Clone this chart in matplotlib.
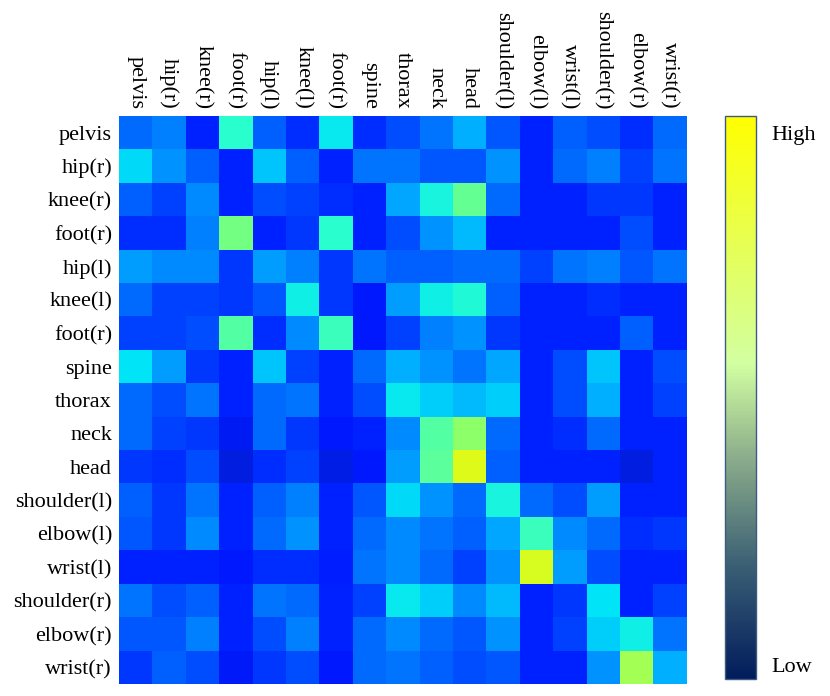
import numpy as np
import matplotlib
matplotlib.use("Agg")
import matplotlib.pyplot as plt
from matplotlib.colors import LinearSegmentedColormap, Normalize
from matplotlib.cm import ScalarMappable

joints = ["pelvis", "hip(r)", "knee(r)", "foot(r)", "hip(l)", "knee(l)", "foot(r)",
          "spine", "thorax", "neck", "head", "shoulder(l)", "elbow(l)", "wrist(l)",
          "shoulder(r)", "elbow(r)", "wrist(r)"]

# attention values (0..1 scale)
row_pelvis     = [0.23, 0.25, 0.16, 0.40, 0.22, 0.17, 0.36, 0.17, 0.20, 0.24, 0.30, 0.21, 0.16, 0.22, 0.20, 0.17, 0.23]
row_hip_r      = [0.34, 0.27, 0.22, 0.16, 0.32, 0.22, 0.16, 0.24, 0.24, 0.21, 0.21, 0.27, 0.16, 0.23, 0.25, 0.19, 0.24]
row_knee_r     = [0.22, 0.19, 0.26, 0.16, 0.20, 0.19, 0.17, 0.16, 0.29, 0.38, 0.47, 0.23, 0.16, 0.16, 0.18, 0.18, 0.16]
row_foot_r     = [0.17, 0.17, 0.25, 0.49, 0.16, 0.18, 0.40, 0.16, 0.20, 0.27, 0.31, 0.16, 0.16, 0.16, 0.16, 0.20, 0.16]
row_hip_l      = [0.28, 0.26, 0.26, 0.18, 0.28, 0.25, 0.18, 0.24, 0.22, 0.22, 0.23, 0.23, 0.19, 0.24, 0.25, 0.21, 0.24]
row_knee_l     = [0.23, 0.19, 0.19, 0.18, 0.21, 0.37, 0.18, 0.15, 0.28, 0.37, 0.39, 0.22, 0.16, 0.16, 0.17, 0.16, 0.16]
row_foot_r2    = [0.19, 0.19, 0.20, 0.45, 0.17, 0.26, 0.42, 0.15, 0.19, 0.25, 0.27, 0.18, 0.16, 0.16, 0.16, 0.22, 0.16]
row_spine      = [0.35, 0.28, 0.18, 0.16, 0.32, 0.19, 0.16, 0.23, 0.30, 0.27, 0.24, 0.29, 0.16, 0.20, 0.32, 0.16, 0.20]
row_thorax     = [0.23, 0.20, 0.24, 0.16, 0.23, 0.24, 0.16, 0.20, 0.36, 0.33, 0.31, 0.33, 0.16, 0.20, 0.30, 0.16, 0.19]
row_neck       = [0.23, 0.19, 0.18, 0.14, 0.23, 0.18, 0.15, 0.16, 0.26, 0.45, 0.52, 0.23, 0.16, 0.17, 0.23, 0.16, 0.16]
row_head       = [0.18, 0.17, 0.20, 0.12, 0.17, 0.19, 0.125, 0.15, 0.28, 0.46, 0.62, 0.22, 0.16, 0.16, 0.16, 0.12, 0.16]
row_shoulder_l = [0.22, 0.18, 0.24, 0.16, 0.22, 0.25, 0.16, 0.21, 0.34, 0.27, 0.23, 0.38, 0.23, 0.20, 0.28, 0.16, 0.16]
row_elbow_l    = [0.21, 0.18, 0.26, 0.16, 0.23, 0.27, 0.16, 0.23, 0.26, 0.24, 0.22, 0.29, 0.42, 0.26, 0.23, 0.17, 0.18]
row_wrist_l    = [0.16, 0.16, 0.16, 0.15, 0.17, 0.17, 0.155, 0.24, 0.26, 0.23, 0.19, 0.27, 0.61, 0.28, 0.20, 0.16, 0.16]
row_shoulder_r = [0.24, 0.20, 0.22, 0.16, 0.24, 0.23, 0.16, 0.19, 0.36, 0.33, 0.26, 0.31, 0.16, 0.18, 0.35, 0.16, 0.19]
row_elbow_r    = [0.21, 0.21, 0.25, 0.16, 0.20, 0.25, 0.16, 0.23, 0.26, 0.23, 0.21, 0.27, 0.16, 0.19, 0.33, 0.37, 0.24]
row_wrist_r    = [0.18, 0.22, 0.20, 0.145, 0.18, 0.20, 0.15, 0.23, 0.24, 0.22, 0.20, 0.21, 0.16, 0.16, 0.27, 0.55, 0.30]

rows = [row_pelvis, row_hip_r, row_knee_r, row_foot_r, row_hip_l, row_knee_l, row_foot_r2,
        row_spine, row_thorax, row_neck, row_head, row_shoulder_l, row_elbow_l, row_wrist_l,
        row_shoulder_r, row_elbow_r, row_wrist_r]
data = np.array(rows)

cbar_labels = ["Low", "High"]

# heatmap colormap: jet-like, with a slightly muted deep-blue low end
jet = plt.get_cmap('jet')
hm_points = [(0.0, "#0014b4"), (0.12, "#001ee1"), (0.15, jet(0.15))]
for v in np.linspace(0.2, 1.0, 17):
    hm_points.append((float(v), jet(float(v))))
hm_cmap = LinearSegmentedColormap.from_list("hm", hm_points, N=512)

plt.rcParams['font.family'] = ['Liberation Serif', 'DejaVu Serif']

fig = plt.figure(figsize=(8.30, 6.96), dpi=100)
W, H = 830, 696
ax = fig.add_axes([119 / W, 1 - 684 / H, 567 / W, 568 / H])
ax.imshow(data, cmap=hm_cmap, vmin=0, vmax=1, aspect='auto', interpolation='nearest')
ax.set_xticks(range(len(joints)))
ax.set_yticks(range(len(joints)))
ax.xaxis.tick_top()
ax.set_xticklabels(joints, rotation=270, fontsize=16, ha='center', va='bottom')
ax.set_yticklabels(joints, fontsize=16)
ax.tick_params(length=0, pad=5)
for s in ax.spines.values():
    s.set_visible(False)

cb_colors = [(0.0, "#021c5c"), (0.2, "#3a5f74"), (0.4, "#8fb08c"),
             (0.56, "#d2ffa2"), (0.75, "#e4ff5c"), (1.0, "#ffff00")]
cb_cmap = LinearSegmentedColormap.from_list("cb", cb_colors)
cax = fig.add_axes([725 / W, 1 - 679 / H, 31 / W, 563 / H])
sm = ScalarMappable(norm=Normalize(0, 1), cmap=cb_cmap)
cb = fig.colorbar(sm, cax=cax)
cb.set_ticks([])
cb.outline.set_edgecolor("#3d5a80")
cb.outline.set_linewidth(1.0)
cax.text(1.5, 0.02, cbar_labels[0], transform=cax.transAxes, fontsize=16, va='center', ha='left')
cax.text(1.5, 0.965, cbar_labels[1], transform=cax.transAxes, fontsize=16, va='center', ha='left')

fig.savefig("out.png", dpi=100)
